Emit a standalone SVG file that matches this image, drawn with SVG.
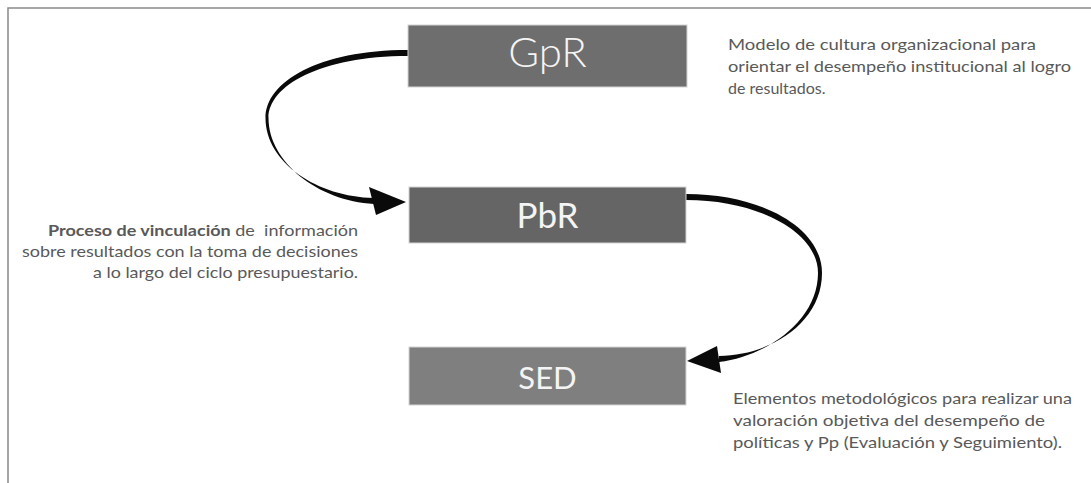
<svg xmlns="http://www.w3.org/2000/svg" width="1091" height="483" viewBox="0 0 1091 483">
<style>
.box{stroke:#d4d4d4;stroke-width:1}
.lbl{font-family:Lato,"Liberation Sans",sans-serif;fill:#f4f4f4;text-anchor:middle}
.desc{font-family:Lato,"Liberation Sans",sans-serif;font-size:16px;fill:#595959}
.arrow{fill:#0a0a0a}
</style>
<rect x="0" y="0" width="1091" height="483" fill="#ffffff"/>
<path d="M8 483 V8 H1091" fill="none" stroke="#8a8a8a" stroke-width="1.5"/>
<g id="connectors">
  <path class="arrow" d="M408 50 C318 50 265.5 82 265.5 118 C265.5 163 318 197 374 198 L374 204 C318 201 268.5 162 268.5 118 C268.5 86 320 56 408 56 Z"/>
  <polygon class="arrow" points="406,202 369,187 376,215"/>
  <path class="arrow" d="M686 194 C762 194 822 228 822 273 C822 322 772 355 719 356 L719 362 C768 356 818 320 818 273 C818 232 758 200 686 200 Z"/>
  <polygon class="arrow" points="687,361 717,346 721,373"/>
</g>
<g id="GpR">
  <rect class="box" x="408" y="25" width="279" height="62" fill="#6e6e6e"/>
  <text class="lbl" x="547.5" y="67" font-size="42" font-weight="300">GpR</text>
</g>
<g id="PbR">
  <rect class="box" x="409" y="187" width="277" height="56" fill="#656565"/>
  <text class="lbl" x="547.5" y="228" font-size="35">PbR</text>
</g>
<g id="SED">
  <rect class="box" x="409" y="347" width="277" height="58" fill="#7f7f7f"/>
  <text class="lbl" x="547.5" y="389" font-size="31">SED</text>
</g>
<g id="desc-gpr" class="desc">
  <text x="728" y="50" textLength="308" lengthAdjust="spacingAndGlyphs">Modelo de cultura organizacional para</text>
  <text x="728" y="72" textLength="343" lengthAdjust="spacingAndGlyphs">orientar el desempeño institucional al logro</text>
  <text x="728" y="94">de resultados.</text>
</g>
<g id="desc-pbr" class="desc" text-anchor="end">
  <text x="358" y="236" textLength="310" lengthAdjust="spacingAndGlyphs" style="white-space:pre"><tspan font-weight="bold">Proceso de vinculación</tspan> de  información</text>
  <text x="358" y="257" textLength="336" lengthAdjust="spacingAndGlyphs">sobre resultados con la toma de decisiones</text>
  <text x="358" y="278" textLength="265" lengthAdjust="spacingAndGlyphs">a lo largo del ciclo presupuestario.</text>
</g>
<g id="desc-sed" class="desc">
  <text x="733" y="404" textLength="339" lengthAdjust="spacingAndGlyphs">Elementos metodológicos para realizar una</text>
  <text x="733" y="426" textLength="312" lengthAdjust="spacingAndGlyphs">valoración objetiva del desempeño de</text>
  <text x="733" y="448" textLength="329" lengthAdjust="spacingAndGlyphs">políticas y Pp (Evaluación y Seguimiento).</text>
</g>
</svg>
